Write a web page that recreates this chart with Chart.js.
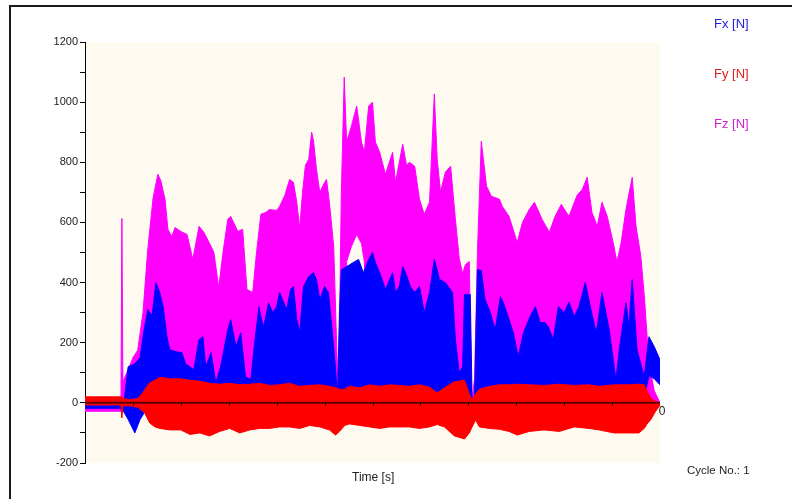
<!DOCTYPE html>
<html>
<head>
<meta charset="utf-8">
<script src="https://cdn.jsdelivr.net/npm/chart.js@4.4.1/dist/chart.umd.min.js"></script>
<style>
    body { margin: 0; background: #fff; overflow: hidden; font-family: "Liberation Sans", Arial, sans-serif; }
    #moldura { position: absolute; left: 9px; top: 5px; width: 800px; height: 520px; border-left: 2px solid #1a1a1a; border-top: 2px solid #1a1a1a; }
    #grafico { position: absolute; left: 0; top: 0; width: 792px; height: 499px; }
    .legenda { position: absolute; left: 714px; font-size: 13px; }
    .texto { position: absolute; font-size: 12px; color: #222; }
</style>
</head>
<body>
<div id="moldura"></div>
<div id="grafico"><canvas id="graficoForcas"></canvas></div>
<div class="legenda" style="top: 16px; color: #2020d8;">Fx [N]</div>
<div class="legenda" style="top: 66px; color: #e02020;">Fy [N]</div>
<div class="legenda" style="top: 116px; color: #d020d0;">Fz [N]</div>
<div class="texto" style="left: 352px; top: 470px;">Time [s]</div>
<div class="texto" style="left: 687px; top: 464px; font-size: 11.5px;">Cycle No.: 1</div>

<script>
// Fz (magenta) - envelope max / min
const tempoFz = [
    0, 0.73, 0.75, 0.77, 0.79, 0.90, 1.00, 1.10, 1.21, 1.31,
    1.42, 1.52, 1.58, 1.67, 1.73, 1.81, 1.88, 2.00, 2.13, 2.25,
    2.38, 2.48, 2.60, 2.69, 2.79, 2.88, 2.98, 3.04, 3.19, 3.29,
    3.38, 3.50, 3.58, 3.67, 3.77, 3.85, 4.00, 4.06, 4.17, 4.27,
    4.35, 4.42, 4.48, 4.54, 4.60, 4.67, 4.73, 4.77, 4.83, 4.90,
    5.00, 5.04, 5.10, 5.19, 5.25, 5.29, 5.35, 5.41, 5.46, 5.56,
    5.67, 5.77, 5.83, 5.92, 6.00, 6.06, 6.15, 6.27, 6.42, 6.48,
    6.63, 6.71, 6.77, 6.88, 6.98, 7.08, 7.19, 7.29, 7.35, 7.42,
    7.52, 7.63, 7.73, 7.81, 7.88, 7.94, 8.02, 8.07, 8.13, 8.19,
    8.27, 8.38, 8.48, 8.65, 8.71, 8.85, 9.02, 9.13, 9.27, 9.38,
    9.54, 9.69, 9.81, 9.94, 10.10, 10.27, 10.38, 10.48, 10.58, 10.69,
    10.79, 10.90, 11.04, 11.10, 11.19, 11.29, 11.42, 11.50, 11.60, 11.67,
    11.77, 11.88, 12.00
];
const fzMax = [
    -5, -5, -5, 613, 70, 110, 150, 175, 300, 510,
    680, 760, 740, 677, 577, 553, 583, 570, 560, 477,
    587, 567, 530, 500, 383, 500, 610, 620, 570, 577,
    377, 367, 500, 627, 633, 643, 640, 653, 690, 743,
    733, 667, 580, 700, 790, 810, 900, 870, 777, 700,
    733, 743, 667, 520, 200, 10, 700, 1083, 867, 920,
    987, 867, 833, 987, 1000, 867, 833, 760, 833, 733,
    860, 790, 800, 787, 677, 627, 667, 1027, 810, 700,
    767, 787, 610, 480, 430, 460, 470, 0, 80, 500,
    870, 720, 687, 677, 653, 620, 533, 600, 643, 667,
    610, 567, 620, 660, 620, 690, 710, 750, 633, 587,
    667, 620, 520, 467, 533, 643, 750, 587, 487, 360,
    130, 40, 0
];
const fzMin = [
    -28, -28, -28, -28, -28, -28, -28, -28, -28, 0,
    0, 0, 0, 0, 0, 0, 0, 0, 0, 0,
    0, 0, 0, 0, 0, 0, 0, 0, 0, 0,
    0, 0, 0, 0, 0, 0, 0, 0, 0, 0,
    0, 0, 0, 0, 0, 0, 0, 0, 0, 0,
    0, 0, 0, 0, 0, 0, 0, 0, 470, 520,
    560, 530, 470, 0, 0, 0, 0, 0, 0, 0,
    0, 0, 0, 0, 0, 0, 0, 0, 0, 0,
    0, 0, 0, 0, 0, 0, 0, 0, 0, 0,
    0, 0, 0, 0, 0, 0, 0, 0, 0, 0,
    0, 0, 0, 0, 0, 0, 0, 0, 0, 0,
    0, 0, 0, 0, 0, 0, 0, 0, 0, 0,
    0, 0, 0
];

// Fx (azul)
const tempoFx = [
    0, 0.73, 0.81, 0.90, 1.04, 1.15, 1.21, 1.31, 1.40, 1.48,
    1.56, 1.63, 1.71, 1.77, 1.90, 2.02, 2.10, 2.19, 2.27, 2.38,
    2.46, 2.52, 2.63, 2.73, 2.83, 2.98, 3.04, 3.15, 3.25, 3.35,
    3.46, 3.54, 3.63, 3.67, 3.73, 3.83, 3.92, 4.00, 4.06, 4.21,
    4.29, 4.35, 4.42, 4.48, 4.56, 4.67, 4.77, 4.83, 4.90, 5.00,
    5.08, 5.15, 5.21, 5.27, 5.31, 5.35, 5.46, 5.60, 5.71, 5.81,
    5.92, 6.00, 6.06, 6.15, 6.27, 6.42, 6.48, 6.56, 6.63, 6.69,
    6.79, 6.88, 6.98, 7.08, 7.19, 7.29, 7.40, 7.52, 7.67, 7.73,
    7.81, 7.88, 7.92, 8.04, 8.08, 8.13, 8.19, 8.27, 8.35, 8.46,
    8.56, 8.67, 8.73, 8.83, 8.94, 9.04, 9.15, 9.29, 9.40, 9.50,
    9.60, 9.67, 9.77, 9.88, 10.00, 10.10, 10.21, 10.31, 10.44, 10.56,
    10.67, 10.79, 10.94, 11.08, 11.15, 11.29, 11.35, 11.42, 11.52, 11.67,
    11.77, 11.88, 12.00
];
const fxMax = [
    -8, -8, -5, 120, 130, 150, 220, 310, 290, 400,
    367, 320, 220, 177, 170, 167, 130, 120, 110, 210,
    220, 120, 167, 67, 120, 243, 277, 187, 233, 87,
    77, 200, 320, 287, 253, 333, 300, 320, 367, 310,
    377, 387, 277, 233, 387, 420, 433, 410, 343, 387,
    367, 253, 150, 20, 300, 443, 453, 467, 477, 433,
    477, 500, 467, 433, 377, 433, 367, 387, 453, 433,
    387, 367, 387, 300, 367, 477, 410, 400, 367, 210,
    100, 120, 360, 360, 0, 20, 443, 440, 343, 300,
    243, 353, 333, 287, 233, 153, 233, 287, 320, 267,
    267, 253, 210, 320, 300, 335, 287, 320, 400, 310,
    233, 367, 243, 77, 177, 333, 253, 410, 177, 87,
    220, 187, 143
];
const fxMin = [
    -18, -18, -30, -55, -100, -55, -40, -10, 20, 20,
    20, 20, 20, 20, 20, 20, 20, 20, 20, 20,
    20, 20, 20, 20, 20, 20, 20, 20, 20, 20,
    20, 20, 20, 20, 20, 20, 20, 20, 20, 20,
    20, 20, 20, 20, 20, 20, 20, 20, 20, 20,
    20, 20, 20, 0, 20, 20, 20, 20, 20, 20,
    20, 20, 20, 20, 20, 20, 20, 20, 20, 20,
    20, 20, 20, 20, 20, 20, 20, 20, 20, 20,
    20, 20, 20, 20, 0, 0, 20, 20, 20, 20,
    20, 20, 20, 20, 20, 20, 20, 20, 20, 20,
    20, 20, 20, 20, 20, 20, 20, 20, 20, 20,
    20, 20, 20, 20, 20, 20, 20, 20, 20, 20,
    90, 80, 60
];

// Fy (vermelho)
const tempoFy = [
    0, 0.73, 0.75, 0.77, 0.79, 0.94, 1.10, 1.19, 1.25, 1.35,
    1.46, 1.56, 1.77, 2.00, 2.19, 2.40, 2.60, 2.81, 3.02, 3.23,
    3.44, 3.65, 3.85, 4.06, 4.27, 4.48, 4.69, 4.90, 5.10, 5.23,
    5.31, 5.42, 5.52, 5.73, 5.94, 6.15, 6.35, 6.56, 6.77, 6.98,
    7.19, 7.35, 7.50, 7.71, 7.92, 8.02, 8.08, 8.15, 8.23, 8.44,
    8.65, 8.85, 9.02, 9.27, 9.58, 9.90, 10.21, 10.52, 10.73, 11.04,
    11.35, 11.56, 11.67, 11.73, 11.81, 11.90, 12.00
];
const fyMax = [
    20, 20, 20, 20, 15, 10, 15, 30, 45, 67,
    75, 85, 80, 80, 75, 72, 65, 62, 65, 60,
    62, 65, 58, 60, 65, 55, 58, 60, 55, 50,
    45, 45, 55, 50, 60, 55, 60, 58, 55, 60,
    52, 33, 50, 70, 75, 30, 10, 30, 45, 55,
    60, 60, 62, 60, 58, 62, 58, 60, 55, 60,
    60, 62, 60, 40, 15, 5, 0
];
const fyMin = [
    -7, -7, -7, -50, -10, -10, -15, -25, -35, -67,
    -80, -85, -90, -90, -105, -100, -110, -95, -85, -100,
    -90, -85, -85, -80, -80, -85, -75, -80, -90, -107,
    -95, -75, -70, -75, -80, -85, -80, -80, -80, -85,
    -80, -72, -80, -110, -120, -100, -80, -57, -80, -85,
    -88, -95, -107, -95, -90, -95, -80, -85, -90, -100,
    -100, -100, -85, -70, -55, -30, -8
];

const ticksY = [-200, 0, 200, 400, 600, 800, 1000, 1200];

function montarPontos(tempos, valores) {
    return tempos.map((t, i) => ({ x: t, y: valores[i] }));
}

function faixa(label, tempos, maximos, minimos, cor, ordem) {
    return [
        {
            label: label,
            data: montarPontos(tempos, maximos),
            borderColor: cor,
            backgroundColor: cor,
            borderWidth: 1,
            pointRadius: 0,
            tension: 0,
            fill: '+1',
            order: ordem
        },
        {
            label: label + ' min',
            data: montarPontos(tempos, minimos),
            borderColor: cor,
            backgroundColor: cor,
            borderWidth: 1,
            pointRadius: 0,
            tension: 0,
            fill: false,
            order: ordem
        }
    ];
}

// fundo creme, linha do zero e marcas do eixo de tempo
const pluginFundo = {
    id: 'fundo',
    beforeDraw(chart) {
        const { ctx, chartArea } = chart;
        ctx.save();
        ctx.fillStyle = '#fefaf0';
        ctx.fillRect(chartArea.left, chartArea.top, chartArea.right - chartArea.left, chartArea.bottom - chartArea.top);
        ctx.restore();
    },
    beforeDatasetsDraw(chart) {
        const { ctx, chartArea, scales } = chart;
        ctx.save();
        ctx.fillStyle = '#222';
        ctx.font = '12px "Liberation Sans", Arial, sans-serif';
        ctx.textAlign = 'center';
        ctx.textBaseline = 'middle';
        ctx.fillText('0', chartArea.right + 2, scales.y.getPixelForValue(0) + 9);
        ctx.restore();
    },
    afterDatasetsDraw(chart) {
        const { ctx, chartArea, scales } = chart;
        const y0 = scales.y.getPixelForValue(0);
        ctx.save();
        ctx.strokeStyle = '#5c0000';
        ctx.lineWidth = 2;
        ctx.beginPath();
        ctx.moveTo(chartArea.left, y0);
        ctx.lineTo(chartArea.right, y0);
        ctx.stroke();
        ctx.strokeStyle = '#200000';
        ctx.lineWidth = 1;
        for (let t = 1; t <= 11; t++) {
            const px = Math.round(scales.x.getPixelForValue(t)) + 0.5;
            ctx.beginPath();
            ctx.moveTo(px, y0);
            ctx.lineTo(px, y0 + 3);
            ctx.stroke();
        }
        ctx.restore();
    }
};

const dados = {
    datasets: [
        ...faixa('Fy [N]', tempoFy, fyMax, fyMin, '#ff0000', 1),
        ...faixa('Fx [N]', tempoFx, fxMax, fxMin, '#0000ff', 2),
        ...faixa('Fz [N]', tempoFz, fzMax, fzMin, '#ff00ff', 3)
    ]
};

const config = {
    type: 'line',
    data: dados,
    options: {
        animation: false,
        responsive: true,
        maintainAspectRatio: false,
        layout: { padding: { left: 20, right: 132, top: 42, bottom: 36 } },
        plugins: {
            legend: { display: false },
            tooltip: { enabled: false }
        },
        scales: {
            x: {
                type: 'linear',
                min: 0,
                max: 12,
                display: false
            },
            y: {
                min: -200,
                max: 1200,
                afterFit: function (scale) { scale.width = 65; },
                afterBuildTicks: function (scale) {
                    const lista = [];
                    for (let v = -200; v <= 1200; v += 100) lista.push({ value: v });
                    scale.ticks = lista;
                },
                ticks: {
                    color: '#222',
                    padding: 2,
                    font: { family: '"Liberation Sans", Arial, sans-serif', size: 11 },
                    callback: function (valor) {
                        return ticksY.includes(valor) ? String(valor) : '';
                    }
                },
                grid: {
                    drawOnChartArea: false,
                    tickLength: 5,
                    color: '#000'
                },
                border: { display: true, color: '#000', width: 1 }
            }
        }
    },
    plugins: [pluginFundo]
};

new Chart(document.getElementById('graficoForcas'), config);
</script>
</body>
</html>
